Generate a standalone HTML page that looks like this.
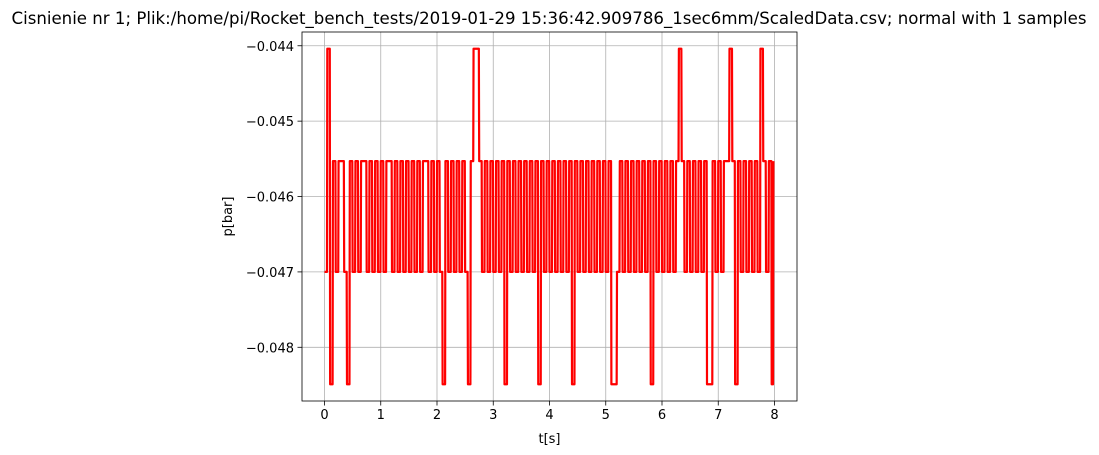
<!DOCTYPE html>
<html><head><meta charset="utf-8"><style>
body{margin:0;background:#fff;width:1099px;height:455px;overflow:hidden}
svg{display:block;font-family:"DejaVu Sans","Liberation Sans",sans-serif}
</style></head><body>
<svg id="chart" width="1099" height="455"></svg>
<script>
const times=[0,0.05,0.1,0.15,0.2,0.25,0.3,0.35,0.4,0.45,0.5,0.55,0.6,0.65,0.7,0.75,0.8,0.85,0.9,0.95,1,1.05,1.1,1.15,1.2,1.25,1.3,1.35,1.4,1.45,1.5,1.55,1.6,1.65,1.7,1.75,1.8,1.85,1.9,1.95,2,2.05,2.1,2.15,2.2,2.25,2.3,2.35,2.4,2.45,2.5,2.55,2.6,2.65,2.7,2.75,2.8,2.85,2.9,2.95,3,3.05,3.1,3.15,3.2,3.25,3.3,3.35,3.4,3.45,3.5,3.55,3.6,3.65,3.7,3.75,3.8,3.85,3.9,3.95,4,4.05,4.1,4.15,4.2,4.25,4.3,4.35,4.4,4.45,4.5,4.55,4.6,4.65,4.7,4.75,4.8,4.85,4.9,4.95,5,5.05,5.1,5.15,5.2,5.25,5.3,5.35,5.4,5.45,5.5,5.55,5.6,5.65,5.7,5.75,5.8,5.85,5.9,5.95,6,6.05,6.1,6.15,6.2,6.25,6.3,6.35,6.4,6.45,6.5,6.55,6.6,6.65,6.7,6.75,6.8,6.85,6.9,6.95,7,7.05,7.1,7.15,7.2,7.25,7.3,7.35,7.4,7.45,7.5,7.55,7.6,7.65,7.7,7.75,7.8,7.85,7.9,7.95,7.98];
const pressure=[-0.047,-0.04404,-0.04849,-0.04553,-0.047,-0.04553,-0.04553,-0.047,-0.04849,-0.04553,
-0.047,-0.04553,-0.047,-0.04553,-0.04553,-0.047,-0.04553,-0.047,-0.04553,-0.047,
-0.04553,-0.047,-0.04553,-0.04553,-0.047,-0.04553,-0.047,-0.04553,-0.047,-0.04553,
-0.047,-0.04553,-0.047,-0.04553,-0.047,-0.04553,-0.04553,-0.047,-0.04553,-0.047,
-0.04553,-0.047,-0.04849,-0.04553,-0.047,-0.04553,-0.047,-0.04553,-0.047,-0.04553,
-0.047,-0.04849,-0.04553,-0.04404,-0.04404,-0.04553,-0.047,-0.04553,-0.047,-0.04553,
-0.047,-0.04553,-0.047,-0.04553,-0.04849,-0.04553,-0.047,-0.04553,-0.047,-0.04553,
-0.047,-0.04553,-0.047,-0.04553,-0.047,-0.04553,-0.04849,-0.04553,-0.047,-0.04553,
-0.047,-0.04553,-0.047,-0.04553,-0.047,-0.04553,-0.047,-0.04553,-0.04849,-0.04553,
-0.047,-0.04553,-0.047,-0.04553,-0.047,-0.04553,-0.047,-0.04553,-0.047,-0.04553,
-0.047,-0.04553,-0.04849,-0.04849,-0.047,-0.04553,-0.047,-0.04553,-0.047,-0.04553,
-0.047,-0.04553,-0.047,-0.04553,-0.047,-0.04553,-0.04849,-0.04553,-0.047,-0.04553,
-0.047,-0.04553,-0.047,-0.04553,-0.047,-0.04553,-0.04404,-0.04553,-0.047,-0.04553,
-0.047,-0.04553,-0.047,-0.04553,-0.047,-0.04553,-0.04849,-0.04849,-0.04553,-0.047,
-0.04553,-0.047,-0.04553,-0.04553,-0.04404,-0.04553,-0.04849,-0.04553,-0.047,-0.04553,
-0.047,-0.04553,-0.047,-0.04553,-0.047,-0.04404,-0.04553,-0.047,-0.04553,-0.04849,
-0.04553];
const xTicks=[0,1,2,3,4,5,6,7,8];
const yTicks=[-0.044,-0.045,-0.046,-0.047,-0.048];
const yTickLabels=["\u22120.044","\u22120.045","\u22120.046","\u22120.047","\u22120.048"];

const NS="http://www.w3.org/2000/svg";
const svg=document.getElementById('chart');
const L=302,R=797,T=32,B=401;
const xmin=-0.4,xmax=8.4;
const dmin=Math.min(...pressure),dmax=Math.max(...pressure),pad=(dmax-dmin)*0.05;
const ymin=dmin-pad,ymax=dmax+pad;
const X=v=>L+(v-xmin)/(xmax-xmin)*(R-L);
const Y=v=>B-(v-ymin)/(ymax-ymin)*(B-T);
function el(tag,attrs,parent){const e=document.createElementNS(NS,tag);for(const k in attrs)e.setAttribute(k,attrs[k]);(parent||svg).appendChild(e);return e;}

const title=el('text',{x:549,y:24,'text-anchor':'middle','font-size':'16.6px',fill:'#000'});


title.textContent='Cisnienie nr 1; Plik:/home/pi/Rocket_bench_tests/2019-01-29 15:36:42.909786_1sec6mm/ScaledData.csv; normal with 1 samples';

xTicks.forEach(t=>{
  const g=el('line',{x1:X(t),x2:X(t),y1:T,y2:B,stroke:'#b0b0b0','stroke-width':0.8});
  
  
  const tk=el('line',{x1:X(t),x2:X(t),y1:B,y2:B+4.5,stroke:'#000','stroke-width':0.8});
  
  
  const lb=el('text',{x:X(t),y:B+18,'text-anchor':'middle','font-size':'13px'});
  
  
  lb.textContent=String(t);
});
yTicks.forEach((t,i)=>{
  const g=el('line',{x1:L,x2:R,y1:Y(t),y2:Y(t),stroke:'#b0b0b0','stroke-width':0.8});
  
  
  const tk=el('line',{x1:L-4.5,x2:L,y1:Y(t),y2:Y(t),stroke:'#000','stroke-width':0.8});
  
  
  const lb=el('text',{x:L-8,y:Y(t)+5,'text-anchor':'end','font-size':'13px'});
  
  
  lb.textContent=yTickLabels[i];
});

const ptsArr=[];
times.forEach((t,i)=>{
  ptsArr.push(X(t).toFixed(2)+','+Y(pressure[i]).toFixed(2));
  if(i<times.length-1){
    const tn=times[i+1]-0.006;
    ptsArr.push(X(tn).toFixed(2)+','+Y(pressure[i]).toFixed(2));
  }
});
const line=el('polyline',{points:ptsArr.join(' '),fill:'none',stroke:'#ff0000','stroke-width':2.2,'stroke-linejoin':'round'});



const frame=el('rect',{x:L,y:T,width:R-L,height:B-T,fill:'none',stroke:'#000','stroke-width':0.8});



const xl=el('text',{x:(L+R)/2,y:443,'text-anchor':'middle','font-size':'13px'});


xl.textContent='t[s]';
const yl=el('text',{x:0,y:0,'text-anchor':'middle','font-size':'13px',transform:'translate(232,'+((T+B)/2)+') rotate(-90)'});


yl.textContent='p[bar]';
</script>
</body></html>
